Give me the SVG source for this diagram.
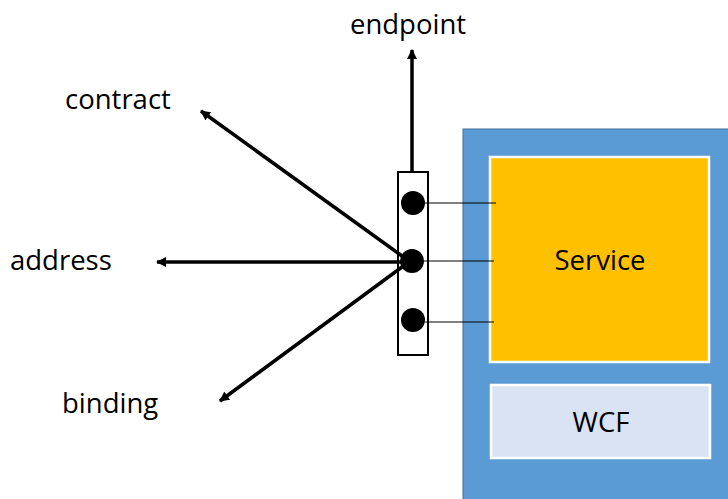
<svg xmlns="http://www.w3.org/2000/svg" width="728" height="499" viewBox="0 0 728 499">
<defs>
<marker id="ah" markerWidth="10" markerHeight="10" refX="9" refY="5" orient="auto" markerUnits="userSpaceOnUse"><path d="M0,0 L10,5 L0,10 z" fill="#000"/></marker>
<style>
.lbl{font-family:"Open Sans","Noto Sans","DejaVu Sans",sans-serif;font-size:27.5px;fill:#000}
.arr{stroke:#000;stroke-width:3.5;fill:none;marker-end:url(#ah)}
.thin{stroke:#000;stroke-width:1;fill:none}
</style>
</defs>
<rect width="728" height="499" fill="#fff"/>
<g id="host">
<rect x="463" y="129" width="270" height="375" fill="#5B9BD5" stroke="#41719C" stroke-width="1"/>
</g>
<g id="service">
<rect x="490" y="157" width="219" height="205" fill="#FFC000" stroke="#fff" stroke-width="2.5"/>
<text class="lbl" x="600" y="270" text-anchor="middle">Service</text>
</g>
<g id="wcf">
<rect x="491" y="385" width="219" height="73" fill="#DAE3F3" stroke="#fff" stroke-width="2.5"/>
<text class="lbl" x="601" y="432" text-anchor="middle">WCF</text>
</g>
<g id="endpoint-box">
<rect x="398" y="172" width="30" height="183" fill="#fff" stroke="#000" stroke-width="2"/>
<circle cx="413" cy="203" r="12" fill="#000"/>
<circle cx="412" cy="261" r="12" fill="#000"/>
<circle cx="413" cy="320" r="12" fill="#000"/>
</g>
<g id="connectors">
<line class="thin" x1="425" y1="203" x2="496" y2="203"/>
<line class="thin" x1="424" y1="261" x2="494" y2="261"/>
<line class="thin" x1="425" y1="322" x2="494" y2="322"/>
<line class="arr" x1="412" y1="171" x2="412" y2="50"/>
<line class="arr" x1="402" y1="256" x2="201" y2="111"/>
<line class="arr" x1="402" y1="262" x2="157" y2="262"/>
<line class="arr" x1="402" y1="267" x2="220" y2="401"/>
</g>
<g id="labels">
<text class="lbl" x="408" y="34" text-anchor="middle">endpoint</text>
<text class="lbl" x="65" y="109">contract</text>
<text class="lbl" x="10" y="270">address</text>
<text class="lbl" x="62" y="413">binding</text>
</g>
</svg>
